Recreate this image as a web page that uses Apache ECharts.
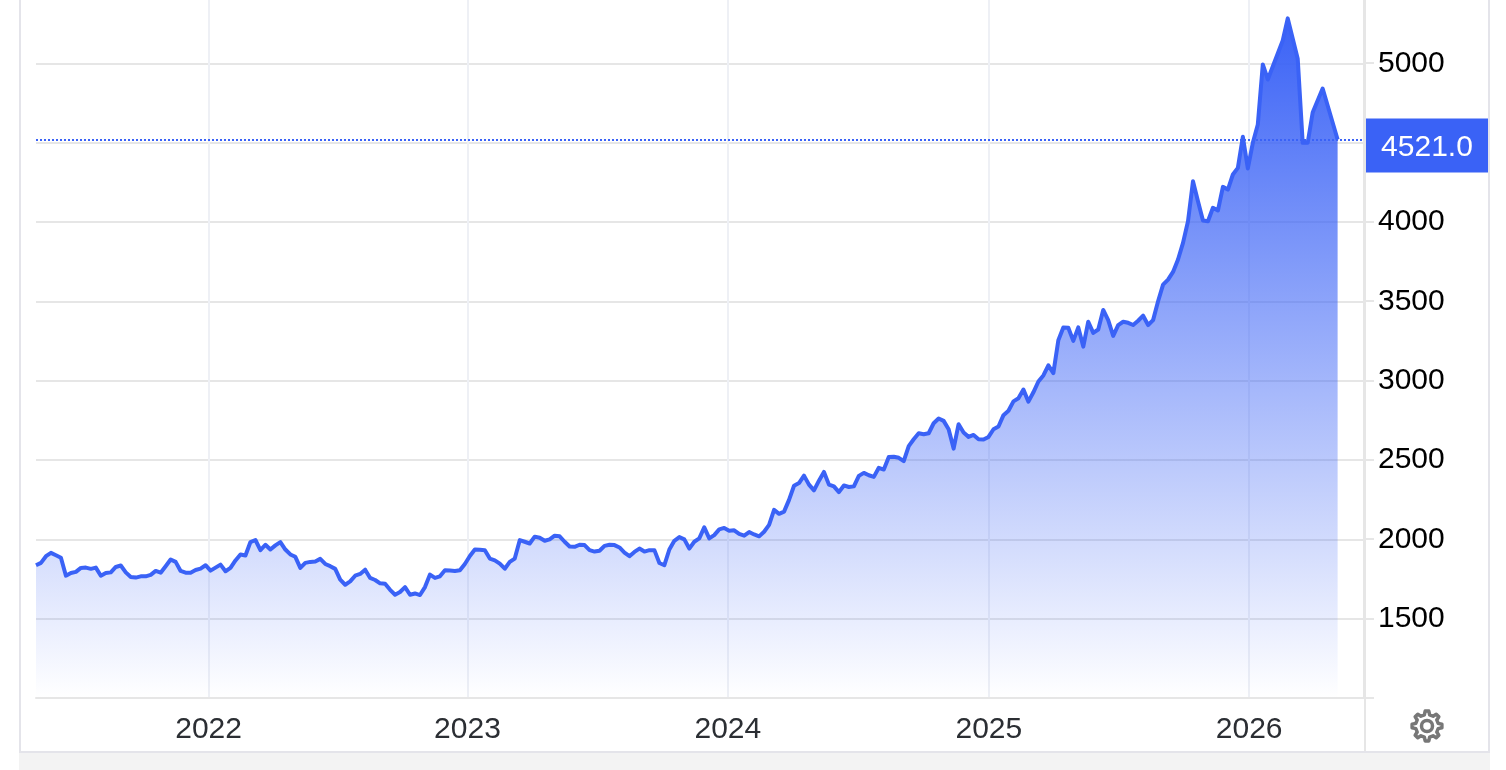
<!DOCTYPE html>
<html><head><meta charset="utf-8">
<style>html,body{margin:0;padding:0;background:#fff}#c{width:1506px;height:770px}</style>
<script src="https://cdn.jsdelivr.net/npm/echarts@6/dist/echarts.min.js"></script>
</head><body><div id="c"></div>
<script>
const startDate = '2021-05-06';
const endDate = '2026-05-05';
const axisEnd = '2026-06-11';
const yearTicks = ['2022-01-03','2023-01-01','2024-01-01','2025-01-01','2026-01-01'];
const priceTicks = [1000,1500,2000,2500,3000,3500,4000,4500,5000];
const priceMin = 1000, priceMax = 5400, priceStep = 500;
const lastPrice = 4521;
// weekly readings; null = no vertex visible in the picture for that week
const prices2021 = [1837,1852,1894,1915,1900,1884,1771,1788,1795,1820,1822,1814,1822,1771,1788,1792,1826,1835,1792,1763,1759,1767,1767,1776,1801,1790,1831,1873,1858,1801,1790,1790,1807,1816];
const prices2022 = [1837,1803,1822,1841,1799,1820,1867,1905,1898,1983,1996,1932,1966,1936,1962,1983,1936,1905,1890,1820,1852,1858,1860,1877,1845,1831,1814,1746,1714,1735,1771,1782,1809,1757,1744,1723,1720,1682,1651,1668,1699,1651,1659,1649,1699,1778,1757,1767,1805,1803,1801,1805];
const prices2023 = [1845,1895,1936,1934,1932,1879,1868,1847,1815,1858,1879,1995,1985,1974,2017,2010,1991,2000,2023,2019,1985,1955,1953,1966,1964,1932,1923,1928,1959,1966,1964,1949,1917,1894,1921,1942,1923,1932,1932,1851,1837,1936,1991,2014,2000,1942,1985,2006,2076,2006,2027,2063];
const prices2024 = [2072,2055,2057,2034,2023,2046,2031,2019,2048,2091,2186,2161,2175,2249,2338,2355,2402,2345,2309,2370,2425,2345,2334,2298,2340,2330,2334,2400,2419,2404,2394,2451,2440,2519,2521,2514,2493,2588,2631,2669,2663,2669,2732,2762,2747,2694,2572,2726,2673,2646,2658,2631,2629];
const prices2025 = [2646,2694,2711,2783,2811,2870,2889,2944,2868,2927,2995,3033,3097,3048,3255,3336,3334,3251,3336,3215,3372,3302,3323,3446,3382,3283,3351,3372,3365,3351,3378,3410,3351,3382,3501,3606,3637,3686,3764,3869,4005,4258,4132,4010,4005,4090,4073,4222,4205,4300,4342,4538];
const prices2026 = [4338,4500,4615,4994,4899,null,null,5145,5284,null,5030,4500,4500,4691,null,4842,null,null,4521];
const prices = [].concat(prices2021,prices2022,prices2023,prices2024,prices2025,prices2026);

const BLUE = '#3a62f6';
const t0 = Date.parse(startDate);
const step = (Date.parse(endDate) - t0) / (prices.length - 1);
const seriesData = prices.map((v,i)=>[t0 + i*step, v]);
const ticks = yearTicks.map(d=>Date.parse(d));

// gear outline (decoration only)
const gearPts = [];
const cx = 1427, cy = 726, teeth = 8;
for (let k=0;k<teeth;k++){
  const a = k/teeth*Math.PI*2 - Math.PI/2, w = Math.PI/teeth;
  [[-0.95,11.5],[-0.5,15],[0.5,15],[0.95,11.5]].forEach(([f,r])=>{
    const b = a + f*w*0.62;
    gearPts.push([cx+r*Math.cos(b), cy+r*Math.sin(b)]);
  });
}
const chrome = '#e4e4ea';
const chart = echarts.init(document.getElementById('c'),null,{renderer:'canvas'});
chart.setOption({
  animation:false,
  backgroundColor:'#fff',
  textStyle:{fontFamily:'"Liberation Sans",Arial,sans-serif'},
  grid:{left:36,right:142,top:0,bottom:72,containLabel:false},
  xAxis:{
    type:'value',
    min:t0, max:Date.parse(axisEnd),
    axisLine:{show:true,onZero:false,lineStyle:{color:'#e6e6e6',width:2}},
    axisTick:{show:false,customValues:ticks},
    splitLine:{show:true,lineStyle:{color:'#eef0f5',width:2}},
    axisLabel:{customValues:ticks,margin:17,fontSize:30,color:'#2b2e33',
      formatter:v=>String(new Date(v).getUTCFullYear())}
  },
  yAxis:{
    type:'value',position:'right',min:priceMin,max:priceMax,interval:priceStep,
    axisLine:{show:true,lineStyle:{color:'#e6e6e6',width:2}},
    axisTick:{show:false},
    splitLine:{show:true,showMinLine:false,showMaxLine:false,lineStyle:{color:'#e6e6e6',width:2}},
    axisLabel:{showMinLabel:false,showMaxLabel:false,margin:14,fontSize:30,color:'#000',formatter:v=>String(v)}
  },
  series:[{
    type:'line',data:seriesData,connectNulls:true,showSymbol:false,symbol:'none',
    lineStyle:{color:BLUE,width:4,join:'round'},
    itemStyle:{color:BLUE},
    areaStyle:{opacity:1,color:new echarts.graphic.LinearGradient(0,0,0,1,[
      {offset:0,color:'rgba(58,98,246,1)'},{offset:1,color:'rgba(58,98,246,0)'}])},
    markLine:{
      silent:true,symbol:'none',
      lineStyle:{color:BLUE,type:[2,2],width:2},
      data:[{yAxis:lastPrice}],
      label:{show:true,position:'end',distance:2,offset:[61,8],
        formatter:p=>p.value.toFixed(1),
        color:'#fff',fontSize:30,align:'center',verticalAlign:'middle'}
    }
  }]
});
const yOf = v => chart.convertToPixel({yAxisIndex:0}, v);
chart.setOption({graphic:[
  {type:'rect',z:-1,shape:{x:19,y:0,width:2,height:770},style:{fill:chrome}},
  {type:'rect',z:-1,shape:{x:1488,y:0,width:2,height:770},style:{fill:chrome}},
  {type:'rect',z:-1,shape:{x:1364,y:0,width:2,height:752},style:{fill:'#e6e6e6'}},
  {type:'rect',z:-1,shape:{x:19,y:752,width:1471,height:18},style:{fill:'#f3f3f3'}},
  {type:'rect',z:-1,shape:{x:19,y:751,width:1471,height:2},style:{fill:chrome}},
  ...priceTicks.map(v=>({type:'rect',z:-1,shape:{x:1366,y:Math.round(yOf(v))-1,width:8,height:2},style:{fill:'#e6e6e6'}})),
  {type:'rect',z:1,shape:{x:1366,y:yOf(lastPrice)-21,width:122,height:54},style:{fill:BLUE}},
  {type:'polygon',shape:{points:gearPts},style:{fill:'none',stroke:'#777',lineWidth:3.5,lineJoin:'round'}},
  {type:'circle',shape:{cx:cx,cy:cy,r:5.5},style:{fill:'none',stroke:'#777',lineWidth:3.5}}
]});
</script></body></html>
